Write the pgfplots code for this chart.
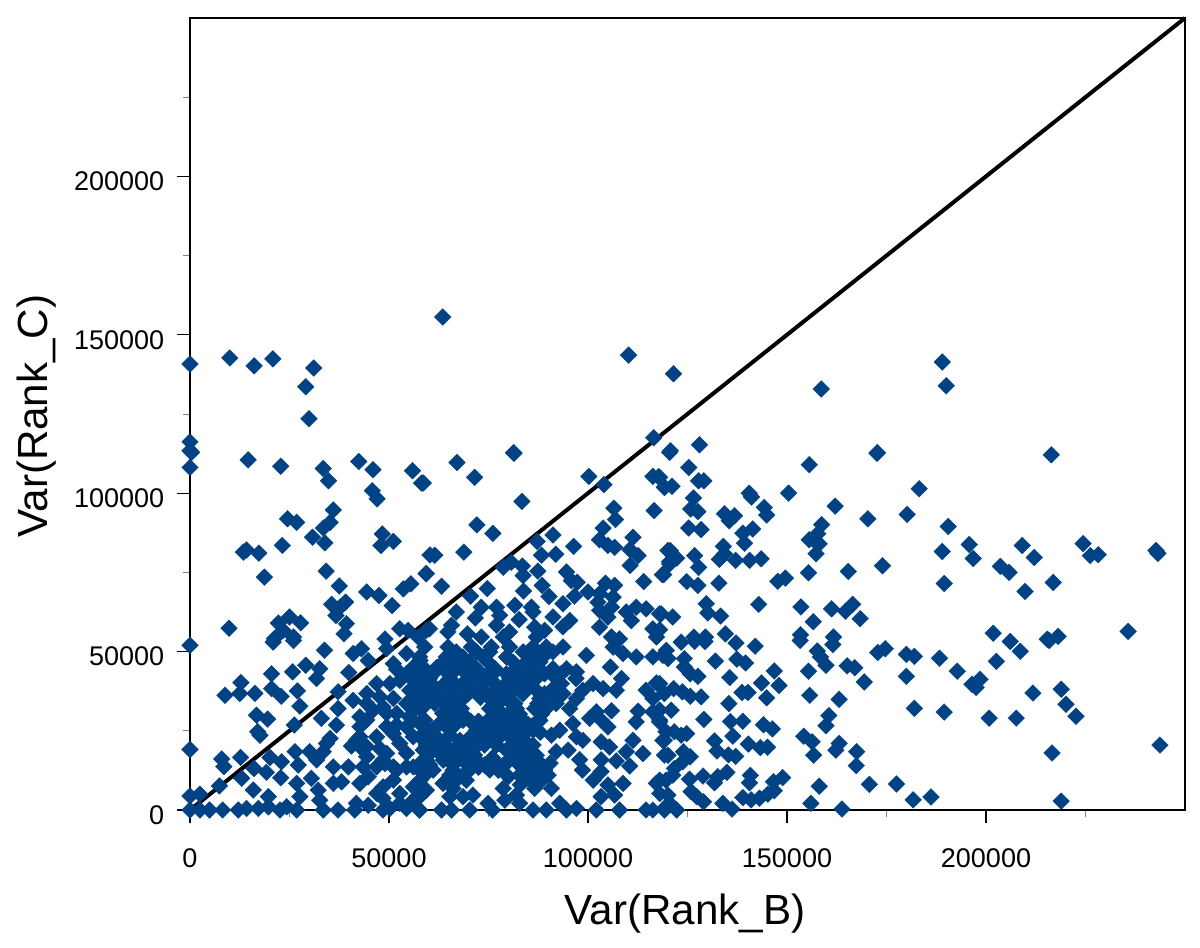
\documentclass[border=0pt]{standalone}
\usepackage{fontspec}
\setmainfont{Liberation Sans}
\usepackage{pgfplots}
\usepackage{pgfplotstable}
\pgfplotsset{compat=1.18}
\definecolor{markblue}{HTML}{004283}

\pgfplotstableread{
x y
180200 93300
190500 89500
189000 81600
195800 83800
196800 79400
209100 83500
212100 79700
203600 76900
205800 75000
189500 71500
209800 69000
216900 71800
224400 84100
226200 80300
228200 80600
242700 81900
243200 81000
235700 56400
201800 55800
206100 53200
208600 50100
202600 46900
215900 53500
218100 54800
215400 53900
180000 49100
182000 48500
188300 47900
192800 43800
180000 42200
198500 41300
196500 39700
197500 38700
211800 36900
218900 38100
220100 33400
222600 29600
182000 32100
189500 30900
200800 29000
207600 29000
243700 20500
216600 18000
177500 8200
181700 3200
186200 4100
218900 2800
123400 53000
126800 53200
129400 53200
137200 52700
142000 51700
153300 53500
161500 52200
157600 50200
158400 48300
159800 45700
172800 49700
174700 50900
132000 47000
137400 47600
139600 46400
146800 43900
155400 43800
165100 45500
167000 44900
169400 40400
135600 41800
143600 40100
148000 39300
138700 37100
140200 37100
144900 35400
155700 36200
163100 34900
135400 33600
129100 28600
135800 27900
138900 28000
144100 26900
146300 25600
136400 23300
160500 29800
159800 26600
154200 23300
156300 21500
163100 21000
162300 18900
167500 18400
156700 17300
167400 14000
131800 21800
132400 18600
140300 20800
143300 19700
145100 19800
135300 17400
137100 16900
128900 10700
134900 11900
132600 10500
131800 8600
140800 10900
140600 8600
148900 10200
146600 8900
146800 6100
145200 5000
143100 3700
158100 7500
170700 8100
138900 3900
141000 3200
133900 2100
136200 300
156000 2100
163800 300
129000 2600
127300 4200
125900 5800
125500 9700
118800 48800
120100 47800
124200 47800
124200 45100
125700 43000
127600 42200
118000 39900
119200 36800
121500 38300
123700 37300
125700 35900
128400 35700
120900 31500
118000 31500
118000 27800
119600 24700
121700 24700
123400 23600
124800 24100
118800 22000
124000 18400
125700 16800
120100 17300
123800 15200
121700 13100
121300 11000
119600 9400
118000 9400
120100 4700
119200 500
122300 0
120500 112900
125300 108100
127800 103900
129100 103900
118000 105000
119200 101800
121100 102200
155600 109000
172600 112600
150400 100000
140500 100000
141100 98800
126500 98500
144300 95500
144900 93100
162100 95900
170300 91900
125800 95000
127600 94200
134300 93500
136800 92900
135500 91300
158700 90100
141400 88700
138900 87400
139300 84200
125300 89000
128400 88500
157700 87200
155600 85300
157300 84500
158100 84000
157300 80900
120700 81900
134000 83200
120500 78400
122300 79500
126800 80300
127800 76600
134300 80800
133000 79100
137100 78800
140600 78800
143500 79300
119000 74300
124800 72100
127600 70900
132900 71600
149600 73200
147700 72200
155400 74900
165400 75300
174000 77100
142900 64900
153500 64100
161200 63500
166500 64900
164700 62700
168400 60400
156600 59400
153400 55300
161700 54600
129700 65100
130100 62200
133300 61200
121300 60900
118400 61900
118000 56900
126600 54600
129500 54600
134500 55600
67100 109700
71500 105000
81400 112600
58600 103200
83400 97400
100200 105300
104000 102700
116300 105300
117700 105200
119200 101900
116600 94500
106500 95300
106900 91700
72100 90000
76100 87300
91200 86800
87200 84800
103800 89000
111300 86100
102900 85300
105000 83500
106700 82900
96400 83200
110500 82200
112600 80300
110600 77200
61500 80400
68800 81400
88300 80400
91900 80700
80700 78200
78700 76600
83500 77000
83700 74000
87400 75400
94600 75100
59400 74600
63200 70600
95800 72400
97300 71900
114000 72100
118700 74300
120500 77700
120100 81900
74700 69900
70500 67500
88500 70900
90200 67400
83800 69100
100000 68800
96600 67500
93700 65100
104400 71600
106700 70900
102900 68300
106300 67200
102500 65600
105900 64000
102900 63000
105000 60900
73200 64000
66900 62500
71700 60600
77000 64000
77800 61400
81600 64600
85800 64000
86200 62500
82700 60100
91200 60900
95400 59800
93700 57800
86600 57700
89100 56700
77000 58300
80300 56200
65700 58300
64800 56200
60200 57200
102900 57700
69700 55600
73200 54600
109600 62500
112100 64000
114600 63500
110900 59800
118000 61900
116300 57200
117200 54600
105900 54600
107900 54000
78700 54600
87000 54600
420 112900
0 108150
14600 110500
22800 108500
33500 107800
34800 103900
42400 110000
46000 107400
55900 107100
58200 103200
45800 100800
47000 98200
36000 94700
24500 91900
26800 90800
35200 90800
33500 89000
30800 86100
33900 84300
48300 87100
51100 84800
48000 83500
23200 83500
14200 82100
13400 81400
17300 81100
60300 80500
18700 73500
34200 75400
37500 70700
44400 68800
47500 67700
50800 64500
55500 71400
53600 69800
59300 74600
35600 64900
39100 65600
37700 64000
36700 61400
39300 58800
38700 55600
9800 57400
22200 59000
25000 60900
27800 59100
23400 56700
21200 54100
26000 54600
49000 54000
52700 57200
54800 56700
57300 54600
59400 56700
0 52000
20900 53000
26000 53500
33800 50400
41000 49400
43100 50900
44800 47200
54400 49400
49400 50900
29100 45700
32600 44600
31800 41500
25800 43600
20500 43000
39900 43400
51900 44400
12800 40200
8800 36200
12500 36800
16300 36800
20500 38300
22900 35900
27000 37600
27600 32800
37200 37300
37200 32000
16700 29900
19500 28700
17600 23600
17000 24700
26200 26800
33000 28900
36800 26800
35200 22600
0 19100
8000 16100
8500 13700
12700 16600
16100 13100
19200 11900
13000 10000
7400 7600
20100 16600
23000 15200
26400 18400
30100 18400
27200 14200
31800 15800
22800 10200
26800 8400
30500 10000
36000 13600
39800 13600
40600 20200
34300 21000
33500 18400
36000 8400
38100 8900
42700 8400
44800 10500
15900 6300
19700 4200
0 4400
2500 5000
32200 6300
32600 3100
27600 4200
46900 5200
0 0
2500 0
4900 0
8200 0
12100 0
14200 500
17200 500
19700 1000
22600 0
24300 1000
26800 0
33500 0
37200 0
41400 0
41800 2100
44800 1500
48500 0
50200 500
54400 500
57600 0
52700 2100
42700 26300
44400 28400
42700 20000
44400 16800
47700 19400
49000 14700
51900 12600
44400 33600
47700 35700
41000 34600
50200 39900
55200 37800
51900 30500
49400 30500
55200 29400
58600 32500
57800 42000
54400 43000
56100 23100
51100 24100
46900 23100
49400 17900
54400 17900
59400 20000
56100 13600
59400 11500
48500 7300
51100 9400
56100 7300
59400 6300
59000 51450
64800 51450
70700 51450
75700 51450
80300 51450
86200 51450
89500 51450
93700 51450
57700 48300
64400 48300
68600 48300
73600 48300
79500 48300
85400 48300
88700 48300
59000 44600
63600 44600
68200 44600
72000 44600
76600 44600
82000 44600
86200 44600
91200 44600
94600 44600
60200 41500
65300 41500
70300 41500
74500 41500
80300 41500
87000 41500
92000 41500
97000 41500
57700 38300
61900 38300
66900 38300
72000 38300
77000 38300
81600 38300
86600 38300
91200 38300
59400 35200
64400 35200
68600 35200
75300 35200
79500 35200
87900 35200
91200 35200
97100 35200
57700 32000
65300 32000
68200 32000
75300 32000
82000 32000
86600 32000
89500 32000
95400 32000
59000 28300
64000 28300
68600 28300
74900 28300
79100 28300
83700 28300
87900 28300
61100 25200
65300 25200
72000 25200
77800 25200
82800 25200
86200 25200
59000 22000
62800 22000
67800 22000
72000 22000
76100 22000
81200 22000
61100 18900
65300 18900
71100 18900
79500 18900
84500 18900
59400 15700
63600 15700
72000 15700
76100 15700
80300 15700
86200 15700
57700 12600
61100 12600
66100 12600
70300 12600
75300 12600
84500 12600
89100 12600
66900 9400
69400 9400
85400 9400
88300 9400
66100 6800
86600 6800
90800 6800
65300 4200
68600 4200
117200 40100
114600 37800
116300 35200
119200 36800
112600 31200
112100 27800
116300 31000
118000 28400
105900 31300
100400 28900
102100 31000
103300 28400
105000 26200
92900 25200
90800 23600
96200 27300
97100 23100
98700 22000
92000 18400
95000 18900
103300 21500
105400 19900
111300 22000
109600 18400
107100 15500
113800 17800
110500 13900
103300 15800
97900 15900
98600 12600
119200 17300
119200 22000
103300 12100
101300 9400
105000 7900
108800 8400
106700 4700
103300 4200
102100 0
107900 0
97100 500
94600 0
92900 2100
89500 0
86200 0
82000 4700
82800 2100
78700 6800
79100 3100
74900 2100
76000 0
70300 0
71100 4700
65700 0
63200 0
63600 8400
57700 4200
57700 0
114600 0
116300 0
119200 0
117200 8400
118000 5200
120500 2100
105600 45100
108400 41500
107100 37800
103800 38300
99600 48800
97100 43600
101300 39900
108800 49400
112100 48300
116300 48300
119700 50400
106300 51400
98700 37800
63500 155600
0 140800
0 116200
0 113400
10000 142700
16100 140200
20800 142400
31100 139500
29100 133600
29900 123500
110200 143600
121500 137700
158600 132900
189000 141400
190000 133900
116500 117500
120700 113400
128000 115300
81300 112800
172700 112800
216400 112100
183200 101400
66900 49900
72000 49900
75300 49900
83700 49900
87000 49900
91200 49900
66100 46700
70300 46700
74900 46700
81200 46700
84500 46700
87900 46700
57700 43000
61100 43000
65700 43000
70300 43000
74900 43000
79500 43000
84500 43000
89100 43000
93300 43000
59400 39900
64000 39900
68600 39900
73600 39900
79500 39900
84100 39900
93300 39900
60200 36700
65300 36700
69900 36700
74500 36700
79100 36700
83700 36700
89100 36700
93700 36700
58600 33600
61500 33600
66500 33600
77400 33600
81600 33600
87400 33600
92000 33600
66100 30200
68600 30200
76600 30200
79900 30200
82800 30200
88300 30200
58600 26800
62300 26800
66500 26800
71500 26800
74900 26800
81600 26800
86200 26800
61100 23600
65300 23600
73600 23600
78200 23600
83700 23600
59400 20500
64000 20500
69000 20500
77000 20500
82800 20500
86200 20500
63200 17300
71500 17300
82000 17300
87000 17300
60200 14200
66100 14200
70300 14200
74000 14200
78700 14200
82800 14200
86600 14200
65300 11000
68600 11000
82800 11000
87000 11000
90000 11000
46900 39900
44400 36800
48500 32500
54400 33600
56900 35700
52700 40900
56100 40900
58600 39900
57800 47200
56100 45100
51100 46200
59000 44100
41800 22000
42700 23100
44400 20000
49400 26300
51900 26800
54400 26300
57800 27300
57800 23100
52700 21000
48500 15800
46900 13600
43500 13600
54400 13600
57800 14700
51100 13600
57800 9400
52700 5200
56100 3100
48500 3700
58600 18900
51100 35200
46000 31500
56100 31500
42700 29400
70500 28000
72500 28000
75500 24000
70000 22500
74000 20500
79500 24500
81000 29000
77000 27500
85000 27000
84000 22000
88000 24500
73000 35500
71000 38500
76000 33000
78000 31000
80000 35000
83000 37500
85000 41000
82000 41500
78000 36500
67000 27500
63500 30500
64000 33500
62500 36500
66000 40000
69500 41000
72500 42500
76500 40000
77000 44000
69000 45000
64000 47000
62000 45000
59500 24000
62000 20500
66500 16500
69000 15200
72500 13500
77500 12500
80000 10500
83000 8000
88000 14800
90500 14800
84500 16000
80500 18000
76000 16500
67000 20000
68500 19000
}\points

\begin{document}
\begin{tikzpicture}
\useasboundingbox (-114pt,-82.8pt) rectangle (606pt,486pt);
\begin{axis}[
  at={(0,0)},
  anchor=south west,
  scale only axis,
  width=597pt,
  height=475.2pt,
  xmin=0, xmax=250000,
  ymin=0, ymax=250000,
  clip=false,
  axis line style={line width=1.3pt},
  tick align=outside,
  xtick pos=bottom,
  ytick pos=left,
  xtick={0,50000,100000,150000,200000},
  ytick={0,50000,100000,150000,200000},
  minor xtick={25000,75000,125000,175000,225000},
  minor ytick={25000,75000,125000,175000,225000},
  major tick length=8pt,
  minor tick length=4pt,
  major tick style={black,line width=0.7pt},
  minor tick style={gray,line width=0.5pt},
  scaled ticks=false,
  /pgf/number format/.cd, fixed, precision=0, 1000 sep={}, assume math mode=true,
  /pgfplots/.cd,
  tick label style={font=\fontsize{16.2}{18}\selectfont},
  xticklabel style={yshift=-11.4pt},
  yticklabel style={yshift=-3pt,xshift=-4pt},
  xlabel={Var(Rank\_B)},
  ylabel={Var(Rank\_C)},
  every axis x label/.style={at={(axis description cs:0.4975,0)},anchor=center,yshift=-62pt,font=\fontsize{25.3}{28}\selectfont},
  every axis y label/.style={at={(axis description cs:0,0.4975)},anchor=center,rotate=90,yshift=91.8pt,font=\fontsize{25.3}{28}\selectfont},
]
\addplot[only marks, mark=square*, mark size=3.55pt, draw=markblue,
  mark options={rotate=45, fill=markblue, draw=markblue, line width=0.2pt}] table[x=x,y=y] {\points};
\addplot[black, line width=2.4pt, mark=none] coordinates {(0,0) (250000,250000)};
\end{axis}
\end{tikzpicture}
\end{document}
